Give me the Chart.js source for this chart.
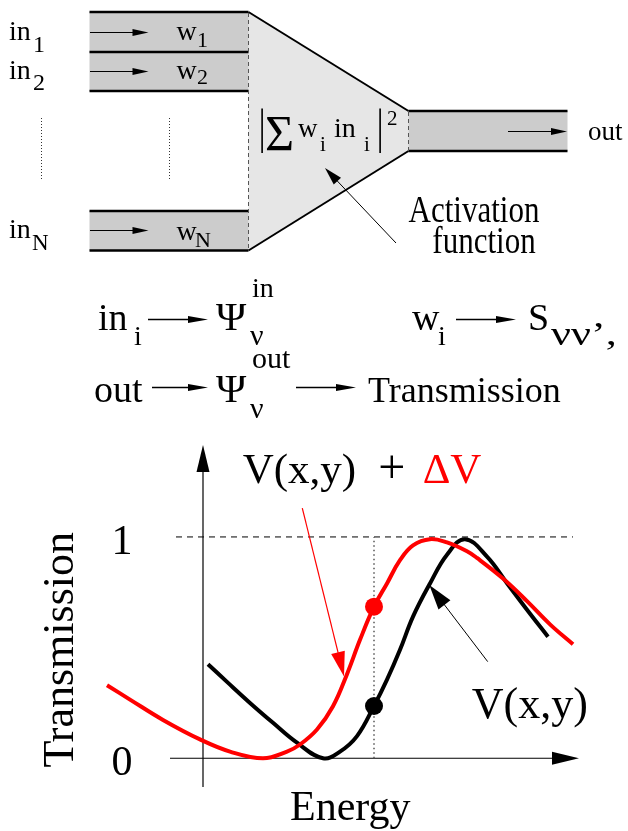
<!DOCTYPE html>
<html>
<head>
<meta charset="utf-8">
<script src="https://cdn.jsdelivr.net/npm/chart.js@4/dist/chart.umd.min.js"></script>
<style>
html,body{margin:0;padding:0;background:#fff;}
canvas{display:block;}
</style>
</head>
<body>
<canvas id="c" width="628" height="831"></canvas>
<script>
// ---------- data ----------
const energyRed   = [-0.96,-0.73,-0.40,-0.03,0.27,0.60,0.84,0.97,1.14,1.30,1.44,1.57,1.71,1.84,1.97,2.10,2.27,2.44,2.64,2.74,3.00,3.24,3.47,3.70];
const transRed    = [0.33,0.265,0.173,0.085,0.03,0.0,0.03,0.062,0.13,0.235,0.38,0.535,0.685,0.79,0.895,0.962,0.99,0.975,0.935,0.905,0.812,0.71,0.605,0.515];
const energyBlack = [0.05,0.24,0.47,0.70,0.94,1.20,1.37,1.54,1.71,1.84,1.97,2.10,2.27,2.44,2.62,2.84,3.04,3.24,3.45];
const transBlack  = [0.425,0.345,0.25,0.16,0.07,0.0,0.03,0.10,0.236,0.355,0.49,0.64,0.79,0.92,0.99,0.911,0.791,0.671,0.549];
const markerEnergy = [1.71];
const markerRed    = [0.685];
const markerBlack  = [0.236];
const yTickValues  = [0, 1];
const yTickLabels  = ['0', '1'];
const xTitle = 'Energy';
const yTitle = 'Transmission';
const seriesLabels = ['V(x,y) + \u0394V', 'V(x,y)'];

const SERIF = "'Liberation Serif','DejaVu Serif',serif";
const RED = '#ff0000';

function txt(ctx, s, x, y, size, opt) {
  opt = opt || {};
  ctx.save();
  ctx.font = size + 'px ' + SERIF;
  ctx.fillStyle = opt.color || '#000';
  ctx.textAlign = opt.align || 'left';
  ctx.textBaseline = 'alphabetic';
  ctx.translate(x, y);
  if (opt.rot) ctx.rotate(opt.rot);
  ctx.scale(opt.sx || 1, opt.sy || 1);
  ctx.fillText(s, 0, 0);
  ctx.restore();
}
function arrow(ctx, x1, y1, x2, y2, len, hw, color, lw) {
  const a = Math.atan2(y2 - y1, x2 - x1), c = Math.cos(a), s = Math.sin(a);
  ctx.save();
  ctx.strokeStyle = color; ctx.fillStyle = color; ctx.lineWidth = lw;
  ctx.beginPath(); ctx.moveTo(x1, y1); ctx.lineTo(x2 - len * c * 0.8, y2 - len * s * 0.8); ctx.stroke();
  ctx.beginPath();
  ctx.moveTo(x2, y2);
  ctx.lineTo(x2 - len * c + hw * s, y2 - len * s - hw * c);
  ctx.lineTo(x2 - len * c - hw * s, y2 - len * s + hw * c);
  ctx.closePath(); ctx.fill();
  ctx.restore();
}
function line(ctx, x1, y1, x2, y2, color, lw, dash) {
  ctx.save();
  ctx.strokeStyle = color; ctx.lineWidth = lw; ctx.setLineDash(dash || []);
  ctx.beginPath(); ctx.moveTo(x1, y1); ctx.lineTo(x2, y2); ctx.stroke();
  ctx.restore();
}

// ---------- schematic (decoration above the chart) ----------
function drawSchematic(ctx) {
  ctx.save();
  ctx.fillStyle = '#e6e6e6';
  ctx.beginPath();
  ctx.moveTo(248.5, 12); ctx.lineTo(408.5, 111); ctx.lineTo(408.5, 151); ctx.lineTo(248.5, 250.5);
  ctx.closePath(); ctx.fill();
  ctx.fillStyle = '#cccccc';
  ctx.fillRect(89.5, 12, 159, 79);
  ctx.fillRect(89.5, 211, 159, 39.5);
  ctx.fillRect(408.5, 111, 159, 40);
  ctx.restore();
  line(ctx, 248.5, 12, 408.5, 111, '#000', 2);
  line(ctx, 248.5, 250.5, 408.5, 151, '#000', 2);
  [12, 52, 91, 211, 250.5].forEach(y => line(ctx, 89.5, y, 248.5, y, '#000', 2.5));
  [111, 151].forEach(y => line(ctx, 408.5, y, 567.5, y, '#000', 2.5));
  line(ctx, 248.5, 13, 248.5, 250, '#555', 1, [4, 3]);
  line(ctx, 408.5, 112, 408.5, 150, '#555', 1, [4, 3]);
  line(ctx, 41.5, 118, 41.5, 181, '#333', 1, [1, 2]);
  line(ctx, 169.5, 118, 169.5, 181, '#333', 1, [1, 2]);
  arrow(ctx, 90, 32.5, 148.5, 32.5, 16, 3.5, '#000', 1);
  arrow(ctx, 90, 71.5, 148.5, 71.5, 16, 3.5, '#000', 1);
  arrow(ctx, 90, 230.5, 148.5, 230.5, 16, 3.5, '#000', 1);
  arrow(ctx, 508, 131.5, 567, 131.5, 16, 3.5, '#000', 1);
  txt(ctx, 'in', 9, 40, 28); txt(ctx, '1', 33, 52, 24);
  txt(ctx, 'in', 9, 79, 28); txt(ctx, '2', 33, 90, 24);
  txt(ctx, 'in', 9, 238, 28); txt(ctx, 'N', 32, 250, 23);
  txt(ctx, 'w', 176.5, 40, 28); txt(ctx, '1', 197, 47, 22);
  txt(ctx, 'w', 176.5, 79, 28); txt(ctx, '2', 197, 84, 22);
  txt(ctx, 'w', 176.5, 240, 28); txt(ctx, 'N', 195, 247, 22);
  txt(ctx, 'out', 588, 140, 27);
  // formula
  txt(ctx, '|', 262, 143, 48, {align: 'center', sx: 0.7});
  txt(ctx, '\u03A3', 265, 150, 50);
  txt(ctx, 'w', 298, 137, 27); txt(ctx, 'i', 320, 151, 21);
  txt(ctx, 'in', 334, 137, 28); txt(ctx, 'i', 364, 151, 21);
  txt(ctx, '|', 380, 143, 48, {align: 'center', sx: 0.7});
  txt(ctx, '2', 387, 125, 21);
  arrow(ctx, 396, 243, 325, 168, 18, 5, '#000', 1);
  txt(ctx, 'Activation', 474, 221.5, 31, {align: 'center', sy: 1.2});
  txt(ctx, 'function', 484, 253, 31, {align: 'center', sy: 1.2});

  // mapping lines
  txt(ctx, 'in', 98, 330, 38); txt(ctx, 'i', 134, 345, 28);
  arrow(ctx, 148, 319.5, 208, 319.5, 20, 3.5, '#000', 1.3);
  txt(ctx, '\u03A8', 216, 330, 41); txt(ctx, 'in', 252, 297, 28); txt(ctx, '\u03BD', 250, 345, 30);
  txt(ctx, 'w', 412, 330, 38); txt(ctx, 'i', 438, 345, 28);
  arrow(ctx, 456, 319.5, 516, 319.5, 20, 3.5, '#000', 1.3);
  txt(ctx, 'S', 528, 330, 38); txt(ctx, '\u03BD\u03BD\u2019,', 551, 345, 34, {sx: 1.3});

  txt(ctx, 'out', 94, 401.5, 38);
  arrow(ctx, 152, 387.5, 208, 387.5, 20, 3.5, '#000', 1.3);
  txt(ctx, '\u03A8', 216, 401.5, 41); txt(ctx, 'out', 252, 368, 30); txt(ctx, '\u03BD', 250, 418, 30);
  arrow(ctx, 296, 387.5, 356, 387.5, 20, 3.5, '#000', 1.3);
  txt(ctx, 'Transmission', 368, 401.5, 36);
}

const decor = {
  id: 'decor',
  beforeDatasetsDraw(chart) {
    const ctx = chart.ctx, xs = chart.scales.x, ys = chart.scales.y;
    const X = v => xs.getPixelForValue(v), Y = v => ys.getPixelForValue(v);
    drawSchematic(ctx);
    arrow(ctx, X(-0.33), Y(0), X(3.76), Y(0), 27, 6.5, '#000', 1.2);
    arrow(ctx, X(0), Y(-0.13), X(0), Y(1.415), 27, 6.5, '#000', 1.2);
    line(ctx, X(-0.27), Y(1), X(3.70), Y(1), '#000', 1, [6, 5]);
    line(ctx, X(markerEnergy[0]), Y(0), X(markerEnergy[0]), Y(1), '#555', 1.5, [1.5, 3]);
    yTickValues.forEach((v, i) => txt(ctx, yTickLabels[i], X(-0.81), Y(v) + 17, 42, {align: 'center'}));
    txt(ctx, yTitle, X(-1.30), Y(0.49), 44, {align: 'center', rot: -Math.PI / 2});
    txt(ctx, xTitle, X(0.87), Y(-0.278), 42);
  },
  afterDatasetsDraw(chart) {
    const ctx = chart.ctx, xs = chart.scales.x, ys = chart.scales.y;
    const X = v => xs.getPixelForValue(v), Y = v => ys.getPixelForValue(v);
    txt(ctx, 'V(x,y)', X(0.397), Y(1.2427), 43);
    txt(ctx, '+', X(1.753), Y(1.2427), 48);
    txt(ctx, '\u0394V', X(2.197), Y(1.2427), 43, {color: RED});
    arrow(ctx, X(0.993), Y(1.13), X(1.41), Y(0.369), 25, 7, RED, 1.2);
    txt(ctx, seriesLabels[1], X(2.687), Y(0.182), 44);
    arrow(ctx, X(2.847), Y(0.4365), X(2.263), Y(0.783), 25, 7.5, '#000', 1);
  }
};

new Chart(document.getElementById('c'), {
  type: 'scatter',
  data: {
    datasets: [
      { label: 'marker red', data: markerEnergy.map((e, i) => ({x: e, y: markerRed[i]})),
        pointRadius: 9, pointBackgroundColor: RED, pointBorderWidth: 0, showLine: false },
      { label: 'marker black', data: markerEnergy.map((e, i) => ({x: e, y: markerBlack[i]})),
        pointRadius: 9, pointBackgroundColor: '#000', pointBorderWidth: 0, showLine: false },
      { label: seriesLabels[0], data: energyRed.map((e, i) => ({x: e, y: transRed[i]})),
        showLine: true, borderColor: RED, borderWidth: 4, pointRadius: 0, tension: 0.4, fill: false,
        borderCapStyle: 'butt', borderJoinStyle: 'round' },
      { label: seriesLabels[1], data: energyBlack.map((e, i) => ({x: e, y: transBlack[i]})),
        showLine: true, borderColor: '#000', borderWidth: 4, pointRadius: 0, tension: 0.4, fill: false,
        borderCapStyle: 'butt', borderJoinStyle: 'round' }
    ]
  },
  options: {
    responsive: false,
    animation: false,
    devicePixelRatio: 1,
    layout: { padding: { left: 103, right: 40, top: 444, bottom: 44 } },
    scales: {
      x: { type: 'linear', min: -1.0, max: 3.85, display: false },
      y: { type: 'linear', min: -0.13, max: 1.42, display: false }
    },
    plugins: { legend: { display: false }, tooltip: { enabled: false } },
    events: []
  },
  plugins: [decor]
});
</script>
</body>
</html>
